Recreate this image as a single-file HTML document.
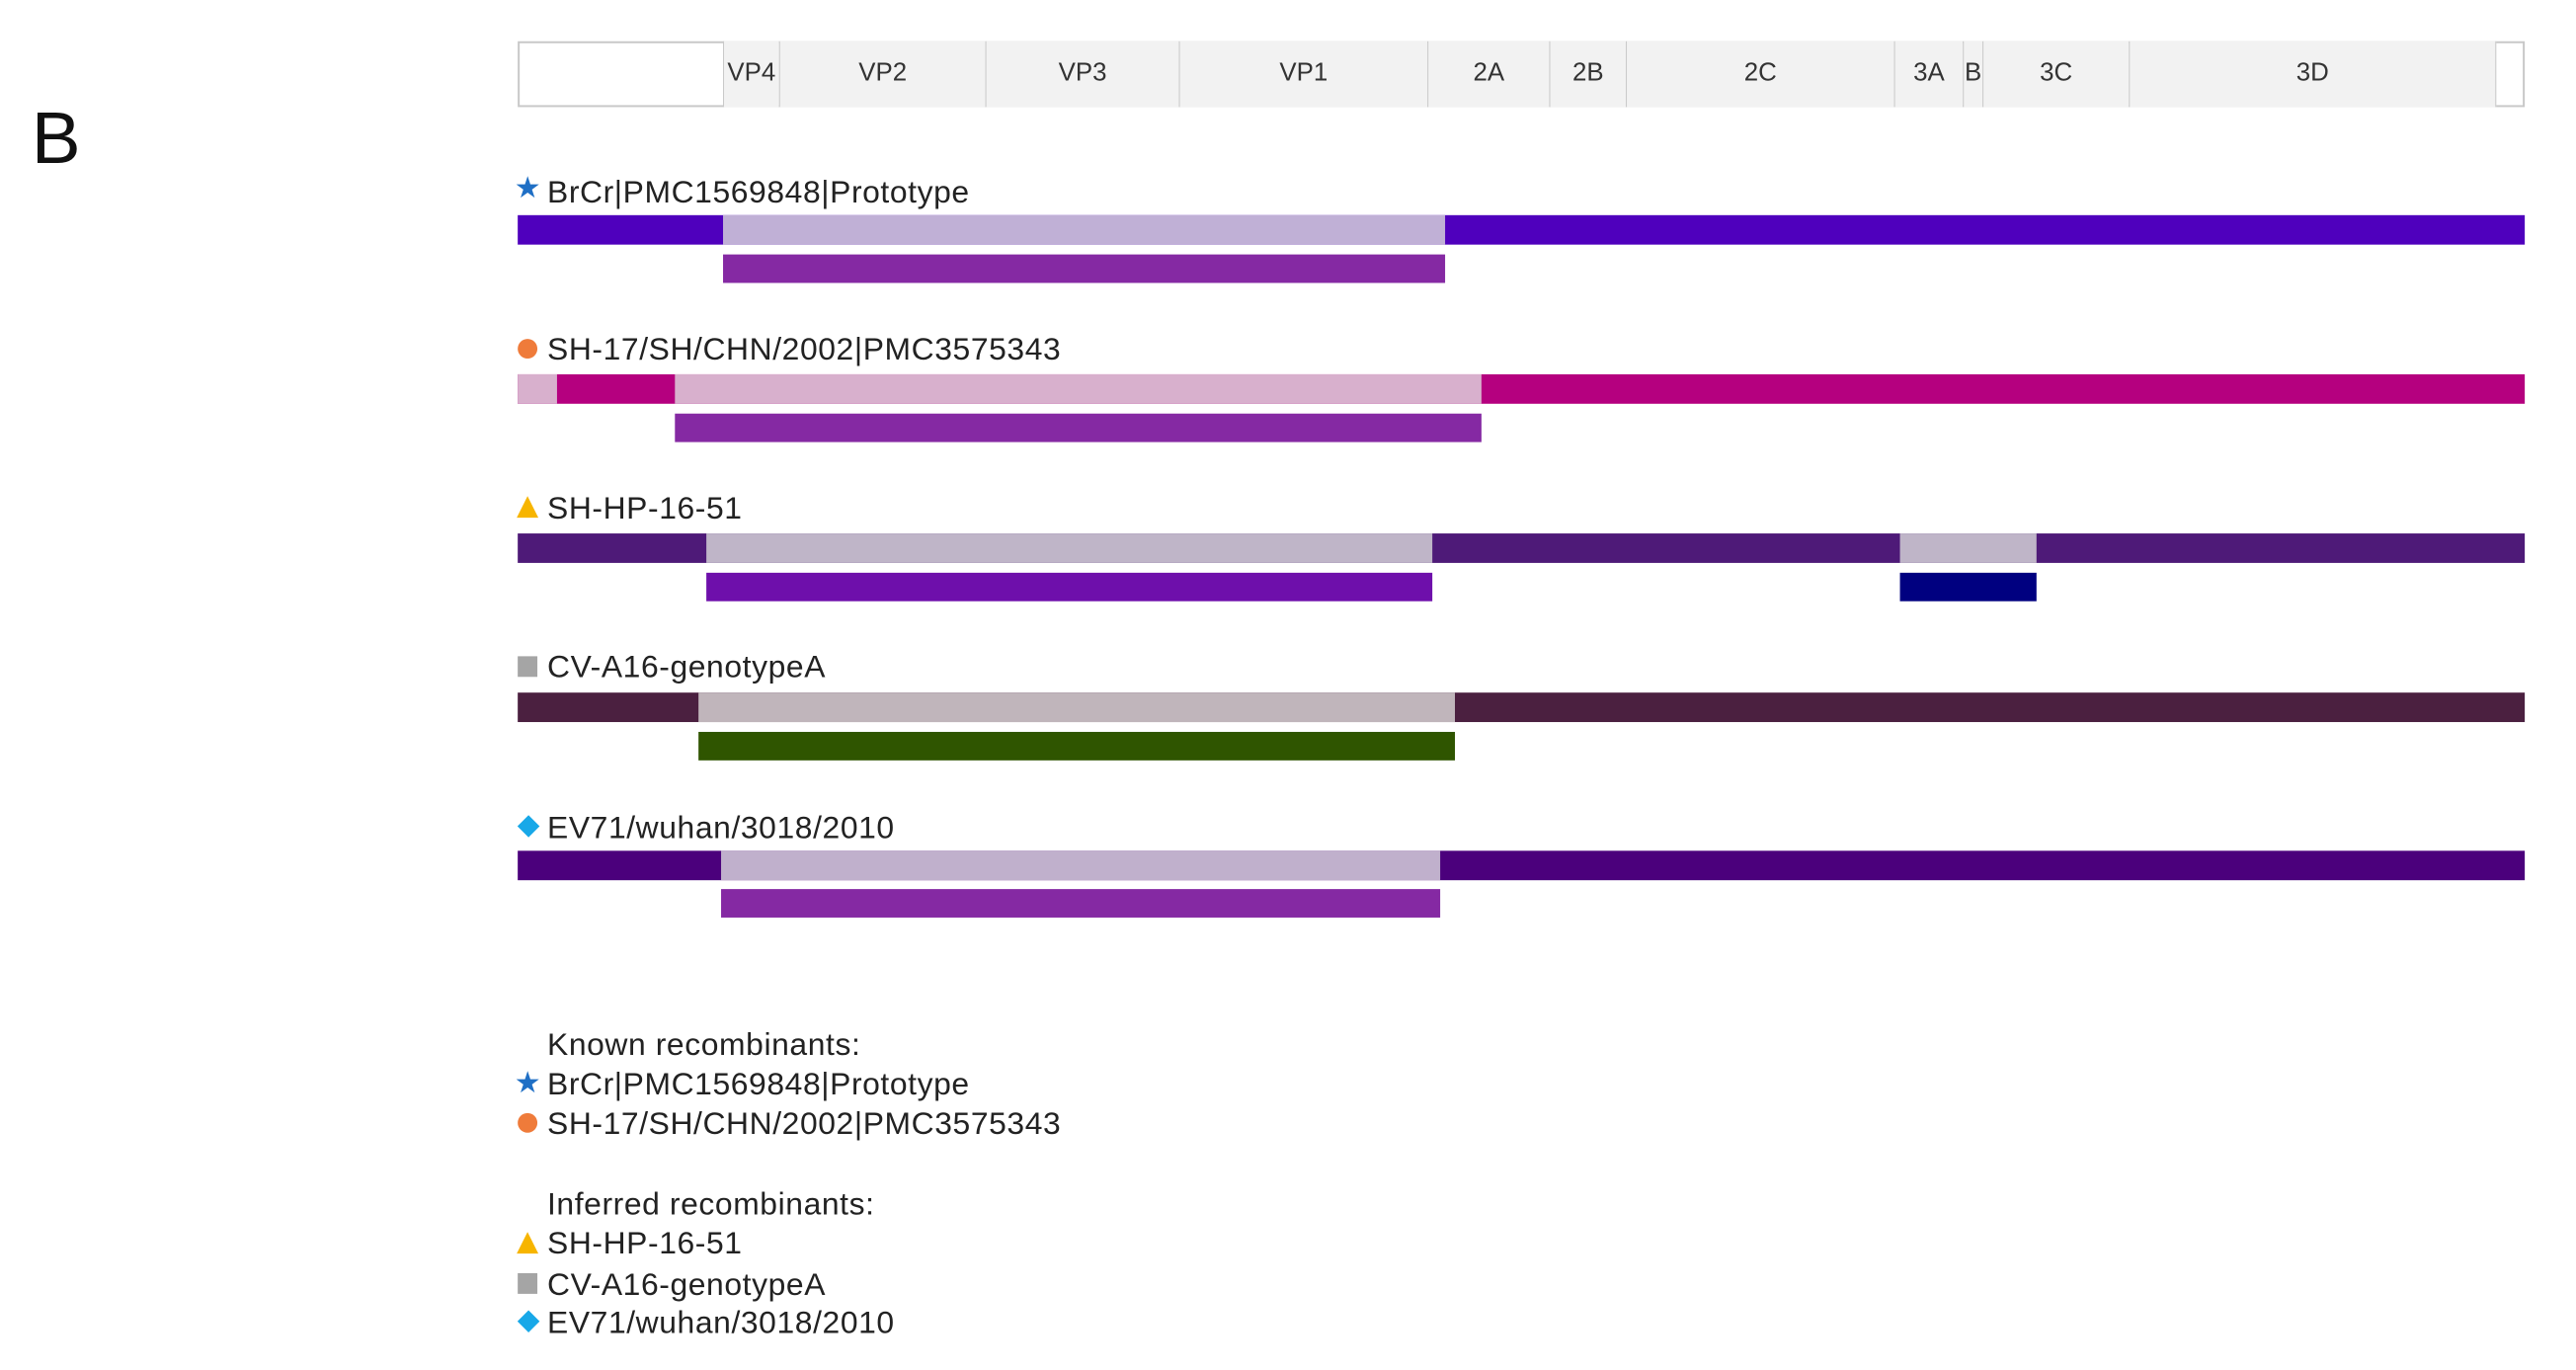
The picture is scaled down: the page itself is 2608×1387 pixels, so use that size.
<!DOCTYPE html>
<html><head><meta charset="utf-8"><style>
body{margin:0;width:2608px;height:1387px;background:#fff;position:relative;overflow:hidden;font-family:"Liberation Sans",sans-serif;}
div{position:absolute;box-sizing:border-box;}
#w{left:0;top:0;width:2608px;height:1387px;transform:scale(0.9946);transform-origin:0 0;}
.c{top:42px;height:67px;background:#f2f2f2;border-left:1px solid #c8c8c8;font-size:26px;color:#333;text-align:center;line-height:62px;}
.t{font-size:32px;letter-spacing:0.6px;color:#222;white-space:nowrap;line-height:36px;}
.i{font-size:30px;width:30px;text-align:center;}
</style></head><body><div id="w">
<div style="left:32px;top:98px;font-size:75px;line-height:84px;color:#111;">B</div>
<div style="left:527px;top:42px;width:2043px;height:67px;border:2px solid #c8c8c8;background:#fff;"></div>
<div class="c" style="left:736px;width:57px;">VP4</div>
<div class="c" style="left:793px;width:210px;">VP2</div>
<div class="c" style="left:1003px;width:197px;">VP3</div>
<div class="c" style="left:1200px;width:253px;">VP1</div>
<div class="c" style="left:1453px;width:124px;">2A</div>
<div class="c" style="left:1577px;width:78px;">2B</div>
<div class="c" style="left:1655px;width:273px;">2C</div>
<div class="c" style="left:1928px;width:70px;">3A</div>
<div class="c" style="left:1998px;width:20px;">B</div>
<div class="c" style="left:2018px;width:149px;">3C</div>
<div class="c" style="left:2167px;width:374px;border-right:1px solid #c8c8c8;">3D</div>

<div class="i" style="left:522px;top:174px;color:#1f6fc5;">★</div>
<div class="t" style="left:557px;top:177px;">BrCr|PMC1569848|Prototype</div>
<div style="left:527px;top:219px;width:2043px;height:30px;background:#4f00bd;"></div>
<div style="left:736px;top:219px;width:735px;height:30px;background:#c0b0d6;"></div>
<div style="left:736px;top:259px;width:735px;height:29px;background:#8529a3;"></div>

<div style="left:527px;top:345px;width:20px;height:20px;border-radius:50%;background:#ef7b3a;"></div>
<div class="t" style="left:557px;top:337px;">SH-17/SH/CHN/2002|PMC3575343</div>
<div style="left:527px;top:381px;width:2043px;height:30px;background:#b5007f;"></div>
<div style="left:527px;top:381px;width:40px;height:30px;background:#d8b0cd;"></div>
<div style="left:687px;top:381px;width:821px;height:30px;background:#d8b0cd;"></div>
<div style="left:687px;top:421px;width:821px;height:29px;background:#8529a3;"></div>

<div style="left:526px;top:505px;width:0;height:0;border-left:11px solid transparent;border-right:11px solid transparent;border-bottom:22px solid #f7b500;"></div>
<div class="t" style="left:557px;top:499px;">SH-HP-16-51</div>
<div style="left:527px;top:543px;width:2043px;height:30px;background:#4e1a78;"></div>
<div style="left:719px;top:543px;width:739px;height:30px;background:#bfb5c8;"></div>
<div style="left:1934px;top:543px;width:139px;height:30px;background:#bfb5c8;"></div>
<div style="left:719px;top:583px;width:739px;height:29px;background:#6e0fab;"></div>
<div style="left:1934px;top:583px;width:139px;height:29px;background:#000080;"></div>

<div style="left:527px;top:668px;width:20px;height:21px;background:#a5a5a5;"></div>
<div class="t" style="left:557px;top:660px;">CV-A16-genotypeA</div>
<div style="left:527px;top:705px;width:2043px;height:30px;background:#4b2040;"></div>
<div style="left:711px;top:705px;width:770px;height:30px;background:#c0b5bb;"></div>
<div style="left:711px;top:745px;width:770px;height:29px;background:#2f5500;"></div>

<div style="left:530px;top:833px;width:16px;height:16px;background:#18a8e8;transform:rotate(45deg);"></div>
<div class="t" style="left:557px;top:824px;">EV71/wuhan/3018/2010</div>
<div style="left:527px;top:866px;width:2043px;height:30px;background:#4b007c;"></div>
<div style="left:734px;top:866px;width:732px;height:30px;background:#c0b0cc;"></div>
<div style="left:734px;top:905px;width:732px;height:29px;background:#8529a3;"></div>

<div class="t" style="left:557px;top:1045px;">Known recombinants:</div>
<div class="i" style="left:522px;top:1085px;color:#1f6fc5;">★</div>
<div class="t" style="left:557px;top:1085px;">BrCr|PMC1569848|Prototype</div>
<div style="left:527px;top:1133px;width:20px;height:20px;border-radius:50%;background:#ef7b3a;"></div>
<div class="t" style="left:557px;top:1125px;">SH-17/SH/CHN/2002|PMC3575343</div>
<div class="t" style="left:557px;top:1207px;">Inferred recombinants:</div>
<div style="left:526px;top:1254px;width:0;height:0;border-left:11px solid transparent;border-right:11px solid transparent;border-bottom:22px solid #f7b500;"></div>
<div class="t" style="left:557px;top:1247px;">SH-HP-16-51</div>
<div style="left:527px;top:1296px;width:20px;height:21px;background:#a5a5a5;"></div>
<div class="t" style="left:557px;top:1289px;">CV-A16-genotypeA</div>
<div style="left:530px;top:1337px;width:16px;height:16px;background:#18a8e8;transform:rotate(45deg);"></div>
<div class="t" style="left:557px;top:1328px;">EV71/wuhan/3018/2010</div>
</div></body></html>
